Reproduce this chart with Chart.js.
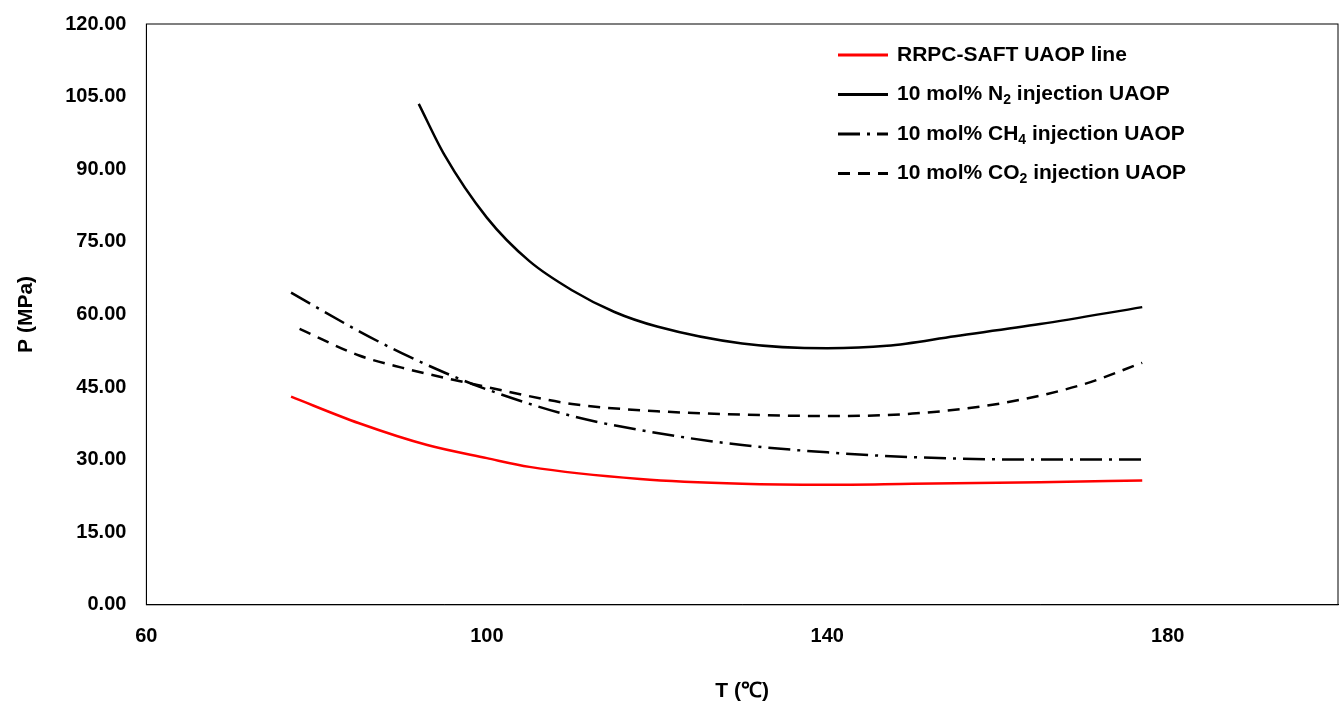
<!DOCTYPE html>
<html><head><meta charset="utf-8">
<script src="https://cdn.jsdelivr.net/npm/chart.js@4"></script>
<style>body{margin:0;background:#fff}</style>
</head><body><canvas id="c" width="1343" height="716"></canvas>
<script>
// curves: [T, P]
const xTicks = [60, 100, 140, 180];
const redX = [77, 85, 93, 100, 105, 118, 130, 140, 150, 165, 177];
const redY = [43, 37.5, 33, 30.3, 28.5, 26, 25, 24.8, 25, 25.3, 25.7];
const n2X = [92, 95, 100, 105, 110, 115, 120, 130, 140, 147, 155, 165, 177];
const n2Y = [103.5, 93, 80, 71, 65, 60.5, 57.5, 54, 53, 53.5, 55.5, 58, 61.5];
const ch4X = [77, 85, 90, 95, 100, 110, 120, 130, 140, 150, 165, 177];
const ch4Y = [64.5, 56.5, 52, 48, 44.5, 39, 35.5, 33, 31.5, 30.5, 30, 30];
const co2X = [78, 85, 90, 100, 110, 120, 130, 140, 150, 160, 170, 177];
const co2Y = [57, 51.5, 49, 45, 41.5, 40, 39.3, 39, 39.5, 41.5, 45.5, 50];

const pts = (xs, ys) => xs.map((x, i) => ({ x, y: ys[i] }));
const FONT = "'Liberation Sans', Arial, sans-serif";

const legendItems = [
  { color: "#ff0000", dash: [], text: "RRPC-SAFT UAOP line", sub: "", tail: "" },
  { color: "#000", dash: [], text: "10 mol% N", sub: "2", tail: " injection UAOP" },
  { color: "#000", dash: [22, 7, 3, 7], text: "10 mol% CH", sub: "4", tail: " injection UAOP" },
  { color: "#000", dash: [12, 8], text: "10 mol% CO", sub: "2", tail: " injection UAOP" }
];

const frame = {
  id: "frame",
  afterDraw(chart) {
    const { ctx, chartArea: a } = chart;
    ctx.save();
    ctx.strokeStyle = "#000";
    ctx.lineWidth = 1;
    ctx.strokeRect(a.left, a.top, a.right - a.left, a.bottom - a.top);
    // legend
    let y = 55;
    legendItems.forEach(it => {
      ctx.strokeStyle = it.color;
      ctx.lineWidth = 3;
      ctx.setLineDash(it.dash);
      ctx.beginPath(); ctx.moveTo(838, y); ctx.lineTo(888, y); ctx.stroke();
      ctx.setLineDash([]);
      ctx.fillStyle = "#000";
      ctx.textBaseline = "middle";
      ctx.font = "bold 21px " + FONT;
      let x = 897;
      ctx.fillText(it.text, x, y);
      x += ctx.measureText(it.text).width;
      if (it.sub) {
        ctx.font = "bold 14px " + FONT;
        ctx.fillText(it.sub, x, y + 6);
        x += ctx.measureText(it.sub).width;
        ctx.font = "bold 21px " + FONT;
        ctx.fillText(it.tail, x, y);
      }
      y += 39.5;
    });
    ctx.restore();
  }
};

const ds = (label, data, color, dash) => ({
  label, data, borderColor: color, borderDash: dash, borderWidth: 2.5,
  pointRadius: 0, fill: false, cubicInterpolationMode: "monotone"
});

new Chart(document.getElementById("c"), {
  type: "line",
  data: {
    datasets: [
      ds("RRPC-SAFT UAOP line", pts(redX, redY), "#ff0000", []),
      ds("N2", pts(n2X, n2Y), "#000", []),
      ds("CH4", pts(ch4X, ch4Y), "#000", [22, 7, 3, 7]),
      ds("CO2", pts(co2X, co2Y), "#000", [12, 8])
    ]
  },
  options: {
    responsive: false, animation: false,
    layout: { padding: { left: 10, right: 5, top: 12, bottom: 8 } },
    plugins: { legend: { display: false }, tooltip: { enabled: false } },
    scales: {
      x: {
        type: "linear", min: 60, max: 200,
        afterBuildTicks: s => { s.ticks = xTicks.map(v => ({ value: v })); },
        grid: { display: false },
        border: { color: "#000" },
        ticks: { color: "#000", font: { family: FONT, size: 20, weight: "bold" }, padding: 12, autoSkip: false, maxRotation: 0 },
        title: { display: true, text: "T (℃)", color: "#000", font: { family: FONT, size: 21, weight: "bold" }, padding: { top: 18 } }
      },
      y: {
        min: 0, max: 120,
        grid: { display: false },
        border: { color: "#000" },
        ticks: { stepSize: 15, color: "#000", font: { family: FONT, size: 20, weight: "bold" }, padding: 12, callback: v => v.toFixed(2) },
        title: { display: true, text: "P (MPa)", color: "#000", font: { family: FONT, size: 21, weight: "bold" }, padding: { bottom: 14 } }
      }
    }
  },
  plugins: [frame]
});
</script>
</body></html>
